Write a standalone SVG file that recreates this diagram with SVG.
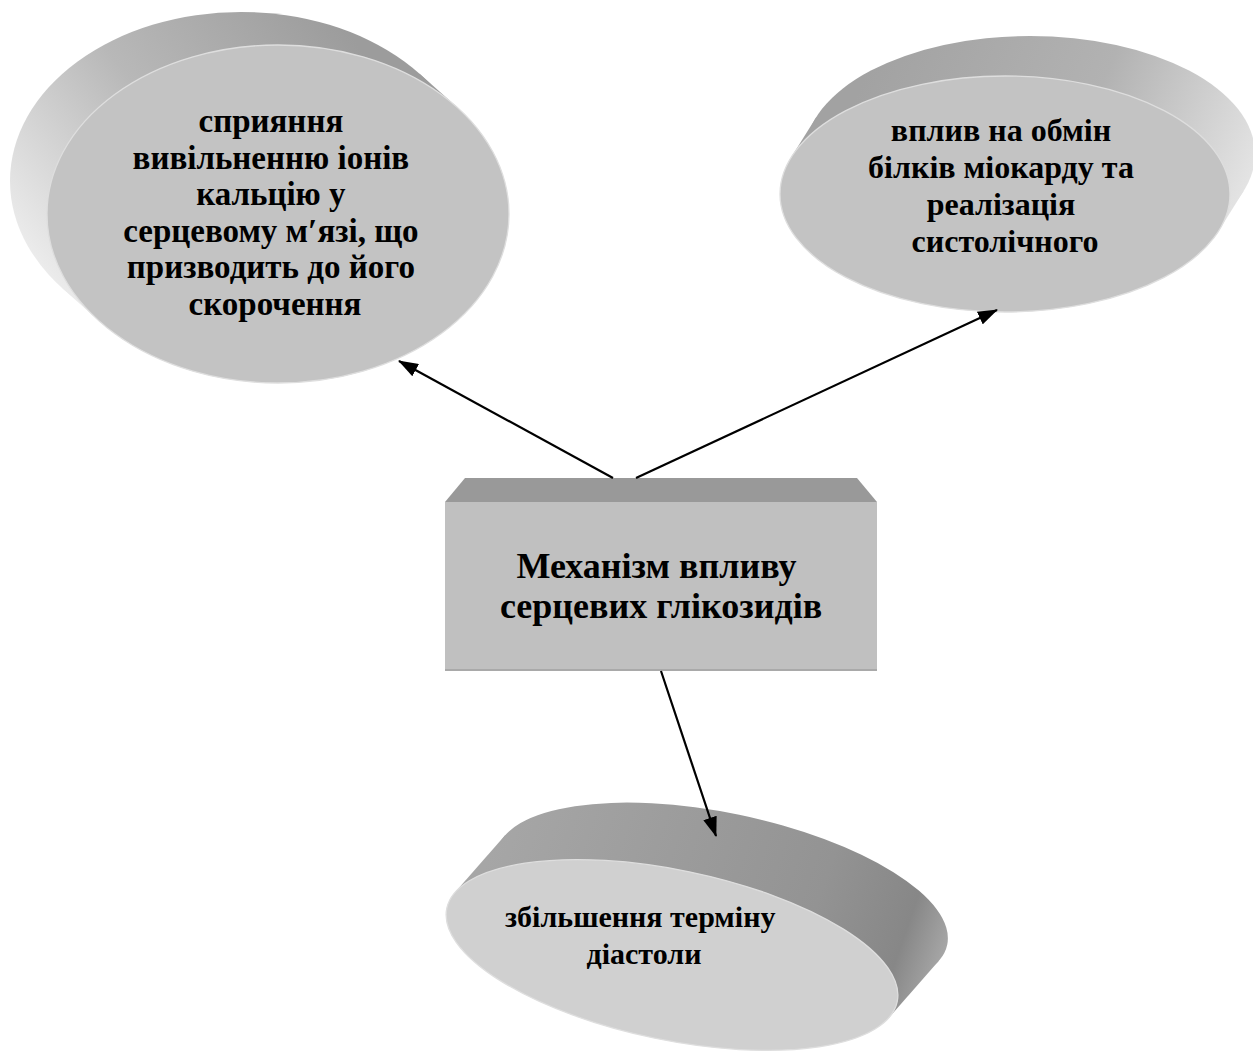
<svg xmlns="http://www.w3.org/2000/svg" width="1253" height="1052" viewBox="0 0 1253 1052">
  <defs>
    <style>
      .lbl { font-family: "Liberation Serif", "Times New Roman", serif; font-weight: bold; fill: #000; text-anchor: middle; }
      .face { stroke: #dedede; stroke-width: 1.3; }
      .conn { stroke: #000; stroke-width: 2.2; fill: none; marker-end: url(#arrow); }
    </style>
    <marker id="arrow" viewBox="0 0 20 14" refX="19" refY="7" markerWidth="20" markerHeight="14" markerUnits="userSpaceOnUse" orient="auto">
      <path d="M0,0 L20,7 L0,14 z" fill="#000"/>
    </marker>
    <!-- side (extrusion) shading of each disc -->
    <linearGradient id="sideA" gradientUnits="userSpaceOnUse" x1="20" y1="260" x2="330" y2="10">
      <stop offset="0" stop-color="#efefef"/>
      <stop offset="0.5" stop-color="#b8b8b8"/>
      <stop offset="1" stop-color="#9c9c9c"/>
    </linearGradient>
    <linearGradient id="sideB" gradientUnits="userSpaceOnUse" x1="880" y1="40" x2="1250" y2="200">
      <stop offset="0" stop-color="#a2a2a2"/>
      <stop offset="0.55" stop-color="#b2b2b2"/>
      <stop offset="1" stop-color="#e6e6e6"/>
    </linearGradient>
    <linearGradient id="sideC" gradientUnits="userSpaceOnUse" x1="-200" y1="-60" x2="262" y2="0">
      <stop offset="0" stop-color="#a6a6a6"/>
      <stop offset="0.7" stop-color="#939393"/>
      <stop offset="0.9" stop-color="#878787"/>
      <stop offset="1" stop-color="#a8a8a8"/>
    </linearGradient>
  </defs>

  <rect width="1253" height="1052" fill="#ffffff"/>

  <!-- left disc -->
  <g id="node-calcium">
    <ellipse cx="241" cy="181" rx="231" ry="169" fill="url(#sideA)"/>
    <polygon points="456.6,106.8 419.6,73.8 62.4,288.2 99.4,321.2" fill="url(#sideA)"/>
    <ellipse class="face" cx="278" cy="214" rx="231" ry="169" fill="#c3c3c3"/>
    <text class="lbl" font-size="33">
      <tspan x="275" y="132">сприяння</tspan>
      <tspan x="275" y="168.6">вивільненню іонів</tspan>
      <tspan x="275" y="205.2">кальцію у</tspan>
      <tspan x="275" y="241.8">серцевому м′язі, що</tspan>
      <tspan x="275" y="278.4">призводить до його</tspan>
      <tspan x="275" y="315">скорочення</tspan>
    </text>
  </g>

  <!-- right disc -->
  <g id="node-proteins">
    <ellipse cx="1030" cy="154" rx="225" ry="118" fill="url(#sideB)"/>
    <polygon points="1218.8,230.8 1243.8,190.8 816.2,117.2 791.2,157.2" fill="url(#sideB)"/>
    <ellipse class="face" cx="1005" cy="194" rx="225" ry="118" fill="#c3c3c3"/>
    <text class="lbl" font-size="32">
      <tspan x="1005" y="141">вплив на обмін</tspan>
      <tspan x="1005" y="178">білків міокарду та</tspan>
      <tspan x="1005" y="215">реалізація</tspan>
      <tspan x="1005" y="252">систолічного</tspan>
    </text>
  </g>

  <!-- central block -->
  <g id="node-mechanism">
    <polygon points="445,502 465,478 857,478 877,502" fill="#999999"/>
    <rect x="445" y="502" width="432" height="168" fill="#c0c0c0"/>
    <line x1="445" y1="670" x2="877" y2="670" stroke="#a9a9a9" stroke-width="2"/>
    <text class="lbl" font-size="36">
      <tspan x="661" y="578">Механізм впливу</tspan>
      <tspan x="661" y="618">серцевих глікозидів</tspan>
    </text>
  </g>

  <!-- bottom disc -->
  <g id="node-diastole">
    <g transform="translate(672,955) rotate(11.7)">
      <ellipse cx="37.4" cy="-65.95" rx="230" ry="85" fill="url(#sideC)"/>
      <polygon points="225.1,17.4 262.5,-48.5 -187.7,-83.4 -225.1,-17.4" fill="url(#sideC)"/>
      <ellipse class="face" cx="0" cy="0" rx="230" ry="85" fill="#d0d0d0"/>
    </g>
    <text class="lbl" font-size="30">
      <tspan x="644" y="927">збільшення терміну</tspan>
      <tspan x="644" y="964">діастоли</tspan>
    </text>
  </g>

  <!-- connectors, drawn last so the arrowheads sit on top of the discs -->
  <g id="connectors">
    <line class="conn" x1="613" y1="478" x2="399" y2="361"/>
    <line class="conn" x1="636" y1="478" x2="997" y2="310"/>
    <line class="conn" x1="661" y1="671" x2="716" y2="836"/>
  </g>
</svg>
